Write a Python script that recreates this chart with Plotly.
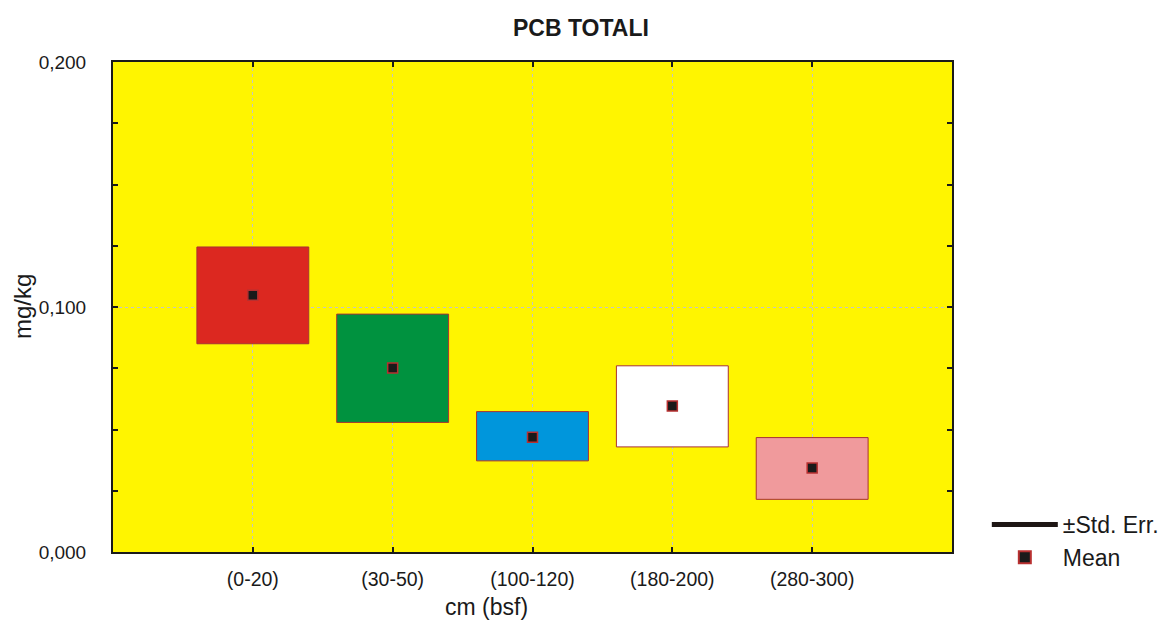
import plotly.graph_objects as go

categories = ["(0-20)", "(30-50)", "(100-120)", "(180-200)", "(280-300)"]
means = [0.1048, 0.0751, 0.0468, 0.0596, 0.0343]
upper = [0.1245, 0.0971, 0.0573, 0.0760, 0.0467]
lower = [0.0850, 0.0529, 0.0372, 0.0429, 0.0215]
box_colors = ["#DC2820", "#00923F", "#0096DC", "#FFFFFF", "#F09A9C"]
y_ticks = [0.0, 0.1, 0.2]

heights = [u - l for u, l in zip(upper, lower)]

FONT = "Liberation Sans, Arial, sans-serif"

fig = go.Figure()
fig.add_trace(go.Bar(
    x=categories, y=heights, base=lower, width=0.8,
    marker=dict(color=box_colors, line=dict(color="#A83232", width=1)),
    showlegend=False, hoverinfo="skip",
))
fig.add_trace(go.Scatter(
    x=categories, y=means, mode="markers",
    marker=dict(symbol="square", size=10, color="#1A1A1A",
                line=dict(color="#B83030", width=1.5)),
    showlegend=False,
))
# legend-only entries
fig.add_trace(go.Scatter(
    x=[None], y=[None], mode="lines", name="±Std. Err.",
    line=dict(color="#1E1614", width=19),
))
fig.add_trace(go.Scatter(
    x=[None], y=[None], mode="markers", name="Mean",
    marker=dict(symbol="square", size=10, color="#1A1A1A",
                line=dict(color="#B83030", width=1.5)),
))

fig.update_layout(
    width=1162, height=614,
    margin=dict(l=105, r=218, t=54, b=70, autoexpand=False),
    paper_bgcolor="white", plot_bgcolor="#FFF500",
    separators=", ",
    font=dict(family=FONT, color="#1A1A1A", size=19),
    title=dict(text="<b>PCB TOTALI</b>", x=0.4931, xref="container", xanchor="center",
               y=1 - 20 / 614, yanchor="middle", font=dict(size=23)),
    showlegend=True,
    legend=dict(x=1.0415, xanchor="left", y=-0.055, yanchor="bottom",
                font=dict(size=23), bgcolor="rgba(0,0,0,0)",
                itemsizing="constant", itemwidth=66),
    annotations=[
        dict(text="cm (bsf)", xref="paper", yref="paper", x=0.4446, y=0,
             xanchor="center", yanchor="middle", yshift=-55, showarrow=False,
             font=dict(size=23, family=FONT)),
        dict(text="mg/kg", xref="paper", yref="paper", x=0, y=0.5,
             xanchor="center", yanchor="middle", xshift=-91, textangle=-90,
             showarrow=False, font=dict(size=24, family=FONT)),
    ],
)
fig.update_xaxes(
    type="category", range=[-1, 5],
    showline=True, linecolor="#1A1A1A", linewidth=2, mirror="ticks",
    ticks="inside", ticklen=5, tickcolor="#1A1A1A", tickwidth=2,
    showgrid=True, gridcolor="#C4C4C4", griddash="dot", gridwidth=1,
    ticklabelstandoff=9,
    tickfont=dict(size=19.5, family=FONT),
    zeroline=False,
)
fig.update_yaxes(
    range=[0, 0.2], tickvals=y_ticks, tickformat=".3f",
    showline=True, linecolor="#1A1A1A", linewidth=2, mirror="ticks",
    ticks="inside", ticklen=5, tickcolor="#1A1A1A", tickwidth=2,
    minor=dict(dtick=0.025, ticks="inside", ticklen=5, tickcolor="#1A1A1A",
               tickwidth=2, showgrid=False),
    showgrid=True, gridcolor="#C4C4C4", griddash="dot", gridwidth=1,
    ticklabelstandoff=21,
    tickfont=dict(size=19),
    zeroline=False,
)

fig.write_html("out.html")
